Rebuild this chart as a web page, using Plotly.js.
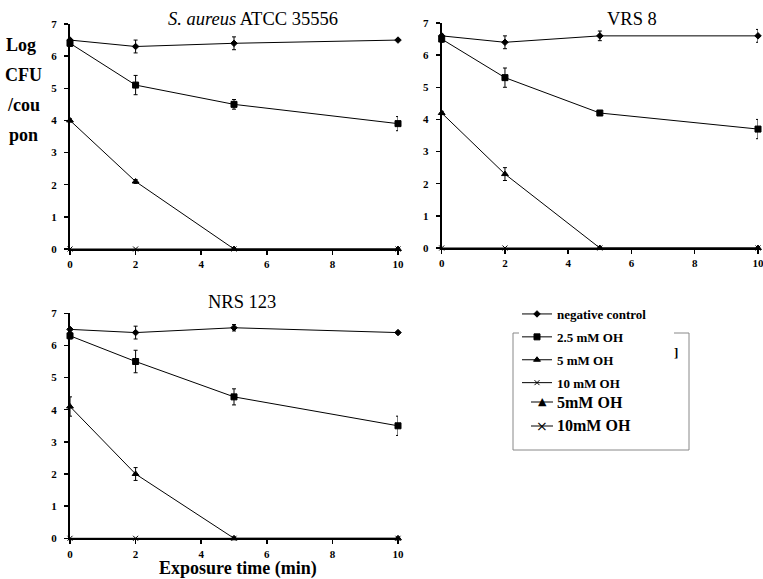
<!DOCTYPE html>
<html><head><meta charset="utf-8">
<script src="https://cdn.plot.ly/plotly-3.0.1.min.js"></script>
<style>html,body{margin:0;padding:0;background:#fff}#c{width:763px;height:579px}</style>
</head><body><div id="c"></div>
<script>
// ---- data ----
const times = [0, 2, 5, 10];
const seriesNames = ["negative control", "2.5 mM OH", "5 mM OH", "10 mM OH"];
const panelTitles = ["<i>S. aureus</i> ATCC 35556", "VRS 8", "NRS 123"];
const xTicks = [0, 2, 4, 6, 8, 10];
const yTicks = [0, 1, 2, 3, 4, 5, 6, 7];

// panel 1: S. aureus ATCC 35556
const p1Neg = [6.5, 6.3, 6.4, 6.5];
const p1NegErr = [0.05, 0.2, 0.2, 0.03];
const p1Oh25 = [6.4, 5.1, 4.5, 3.9];
const p1Oh25Err = [0.1, 0.3, 0.15, 0.22];
const p1Oh5 = [4.0, 2.1, 0, 0];
const p1Oh5Err = [0.05, 0.06, 0, 0];
const p1Oh10 = [0, 0, 0, 0];

// panel 2: VRS 8
const p2Neg = [6.6, 6.4, 6.6, 6.6];
const p2NegErr = [0.05, 0.2, 0.15, 0.2];
const p2Oh25 = [6.5, 5.3, 4.2, 3.7];
const p2Oh25Err = [0.1, 0.3, 0.07, 0.3];
const p2Oh5 = [4.2, 2.3, 0, 0];
const p2Oh5Err = [0.05, 0.2, 0, 0];
const p2Oh10 = [0, 0, 0, 0];

// panel 3: NRS 123
const p3Neg = [6.5, 6.4, 6.55, 6.4];
const p3NegErr = [0.05, 0.2, 0.1, 0.03];
const p3Oh25 = [6.3, 5.5, 4.4, 3.5];
const p3Oh25Err = [0.1, 0.35, 0.25, 0.3];
const p3Oh5 = [4.1, 2.0, 0, 0];
const p3Oh5Err = [0.3, 0.2, 0, 0];
const p3Oh10 = [0, 0, 0, 0];

const panels = [
  [p1Neg, p1NegErr, p1Oh25, p1Oh25Err, p1Oh5, p1Oh5Err, p1Oh10],
  [p2Neg, p2NegErr, p2Oh25, p2Oh25Err, p2Oh5, p2Oh5Err, p2Oh10],
  [p3Neg, p3NegErr, p3Oh25, p3Oh25Err, p3Oh5, p3Oh5Err, p3Oh10]
];

// ---- build ----
const W = 763, H = 579;
const px = v => v / W, py = v => 1 - v / H;
const SER = "'Liberation Serif', 'Times New Roman', serif";
const symbols = ["diamond", "square", "triangle-up", "x-thin-open"];
const sizes = [5, 6, 6, 5];

const traces = [];
panels.forEach((p, i) => {
  const ys = [p[0], p[2], p[4], p[6]];
  const es = [p[1], p[3], p[5], null];
  const ax = i === 0 ? "" : String(i + 1);
  ys.forEach((y, k) => {
    const t = {
      type: "scatter", mode: "lines+markers",
      x: times, y: y, name: seriesNames[k],
      xaxis: "x" + ax, yaxis: "y" + ax,
      legendgroup: "g" + k, showlegend: i === 0,
      cliponaxis: false,
      line: {color: "#000", width: 1},
      marker: {symbol: symbols[k], size: sizes[k], color: "#000", line: {color: "#000", width: 1}}
    };
    if (es[k]) t.error_y = {type: "data", array: es[k], visible: true, color: "#000", thickness: 1, width: 2};
    traces.push(t);
  });
});

const axBase = {
  showline: true, linecolor: "#000", linewidth: 2, showgrid: false, zeroline: false,
  ticks: "outside", ticklen: 4, tickcolor: "#000", tickwidth: 1.5,
  ticklabeloverflow: "allow",
  tickfont: {family: SER, size: 11, color: "#000", weight: "bold"}, fixedrange: true
};
const xAx = dom => Object.assign({}, axBase, {domain: dom, range: [0, 10], tickvals: xTicks});
const yAx = (dom, anchor) => Object.assign({}, axBase, {domain: dom, range: [0, 7], tickvals: yTicks, anchor: anchor, ticklabelstandoff: 5});

const ann = [];
const titlePos = [[253, 19], [632, 19], [242, 302]];
panelTitles.forEach((t, i) => ann.push({
  xref: "paper", yref: "paper", x: px(titlePos[i][0]), y: py(titlePos[i][1]),
  text: t, showarrow: false, xanchor: "center", yanchor: "middle",
  font: {family: SER, size: 18.5, color: "#000"}
}));
[["Log", 21, 45], ["CFU", 24, 75], ["/cou", 24, 105], ["pon", 24, 135]].forEach(a => ann.push({
  xref: "paper", yref: "paper", x: px(a[1]), y: py(a[2]), text: "<b>" + a[0] + "</b>",
  showarrow: false, xanchor: "center", yanchor: "middle",
  font: {family: SER, size: 18, color: "#000"}
}));
ann.push({xref: "paper", yref: "paper", x: px(238), y: py(568), text: "<b>Exposure time (min)</b>",
  showarrow: false, xanchor: "center", yanchor: "middle", font: {family: SER, size: 18, color: "#000"}});
// stray legend remnants
ann.push({xref: "paper", yref: "paper", x: px(555), y: py(402), text: "<b>5mM OH</b>",
  showarrow: false, xanchor: "left", yanchor: "middle", font: {family: SER, size: 16, color: "#000"}});
ann.push({xref: "paper", yref: "paper", x: px(555), y: py(426), text: "<b>10mM OH</b>",
  showarrow: false, xanchor: "left", yanchor: "middle", font: {family: SER, size: 16, color: "#000"}});
ann.push({xref: "paper", yref: "paper", x: px(542), y: py(401), text: "▲",
  showarrow: false, xanchor: "center", yanchor: "middle", font: {family: "DejaVu Sans", size: 11, color: "#000"}});
ann.push({xref: "paper", yref: "paper", x: px(542), y: py(426), text: "×",
  showarrow: false, xanchor: "center", yanchor: "middle", font: {family: "DejaVu Sans", size: 14, color: "#000"}});
ann.push({xref: "paper", yref: "paper", x: px(676), y: py(352), text: "<b>]</b>",
  showarrow: false, xanchor: "center", yanchor: "middle", font: {family: SER, size: 13, color: "#000"}});

const G = "#888";
const L = (x0, y0, x1, y1, c, w) => ({type: "line", xref: "paper", yref: "paper",
  x0: px(x0), y0: py(y0), x1: px(x1), y1: py(y1), line: {color: c, width: w}});
const shapes = [
  L(513, 333, 513, 450, G, 1), L(513, 450, 689, 450, G, 1), L(689, 333, 689, 450, G, 1),
  L(513, 333, 519, 333, G, 1), L(674, 333, 689, 333, G, 1),
  L(531, 402, 553, 402, "#000", 1), L(531, 426, 553, 426, "#000", 1)
];

const layout = {
  width: W, height: H, margin: {l: 0, r: 0, t: 0, b: 0},
  paper_bgcolor: "#fff", plot_bgcolor: "#fff",
  xaxis: xAx([px(70), px(398)]), yaxis: yAx([py(249), py(24)], "x"),
  xaxis2: xAx([px(441.7), px(758)]), yaxis2: yAx([py(248), py(23)], "x2"),
  xaxis3: xAx([px(70), px(398)]), yaxis3: yAx([py(538.3), py(313.3)], "x3"),
  legend: {x: px(517), y: py(299), xanchor: "left", yanchor: "top", bgcolor: "rgba(0,0,0,0)",
    traceorder: "grouped", tracegroupgap: 3, itemwidth: 30,
    font: {family: SER, size: 13, color: "#000", weight: "bold"}},
  annotations: ann, shapes: shapes
};
layout.xaxis.anchor = "y"; layout.xaxis2.anchor = "y2"; layout.xaxis3.anchor = "y3";

Plotly.newPlot("c", traces, layout, {displayModeBar: false, staticPlot: true});
</script></body></html>
